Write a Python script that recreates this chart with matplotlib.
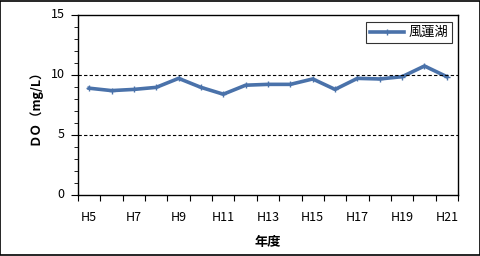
import matplotlib
matplotlib.use("Agg")
import matplotlib.pyplot as plt
from matplotlib.patches import Rectangle
from matplotlib.ticker import MultipleLocator, FixedLocator

plt.rcParams['font.family'] = ['Noto Sans CJK JP', 'DejaVu Sans']

years = ['H5', 'H6', 'H7', 'H8', 'H9', 'H10', 'H11', 'H12', 'H13',
         'H14', 'H15', 'H16', 'H17', 'H18', 'H19', 'H20', 'H21']
do_values = [8.9, 8.7, 8.8, 8.97, 9.72, 8.97, 8.4, 9.15, 9.22,
             9.22, 9.67, 8.8, 9.72, 9.67, 9.86, 10.75, 9.86]
series_name = '風蓮湖'

fig = plt.figure(figsize=(4.81, 2.56), dpi=100)
ax = fig.add_axes([78 / 481, 1 - 195 / 256, 380 / 481, 180 / 256])

x = range(len(years))
ax.plot(x, do_values, color='#4a72aa', lw=2.6, marker='+', ms=4,
        mew=1.0, label=series_name)

ax.set_xlim(-0.5, len(years) - 0.5)
ax.set_ylim(0, 15)

ax.yaxis.set_major_locator(MultipleLocator(5))
ax.yaxis.set_minor_locator(MultipleLocator(1))
ax.set_yticklabels([])
for v in [0, 5, 10, 15]:
    ax.text(-0.035, v, str(v), transform=ax.get_yaxis_transform(),
            ha='right', va='center', fontsize=9)
for v in [5, 10]:
    ax.axhline(v, color='black', lw=0.8, ls=(0, (3, 2)))

ax.xaxis.set_major_locator(FixedLocator([i - 0.5 for i in range(len(years) + 1)]))
ax.set_xticklabels([])
for i, lab in enumerate(years):
    if i % 2 == 0:
        ax.text(i, -0.09, lab, transform=ax.get_xaxis_transform(),
                ha='center', va='top', fontsize=9)

ax.tick_params(axis='both', which='both', direction='out', color='black')
ax.tick_params(axis='y', which='major', length=5)
ax.tick_params(axis='y', which='minor', length=3)
ax.tick_params(axis='x', which='major', length=4)
for s in ax.spines.values():
    s.set_linewidth(1.0)

fig.text(35 / 481, 1 - 104 / 256, 'ＤＯ（mg/L）', rotation=90, ha='center',
         va='center', fontsize=9, fontweight='bold')
fig.text(268 / 481, 1 - 242 / 256, '年度', ha='center', va='center',
         fontsize=9.5, fontweight='bold')

leg = ax.legend(loc='upper right', bbox_to_anchor=(0.984, 0.96), fontsize=9.5,
                frameon=True, fancybox=False, handlelength=2.6,
                handletextpad=0.3, borderpad=0.3, borderaxespad=0)
leg.get_frame().set_edgecolor('black')
leg.get_frame().set_linewidth(0.8)

fig.patches.append(Rectangle((0.001, 0.002), 0.996, 0.996, transform=fig.transFigure,
                             fill=False, edgecolor='black', lw=1.2))

fig.savefig('out.png', dpi=100)
